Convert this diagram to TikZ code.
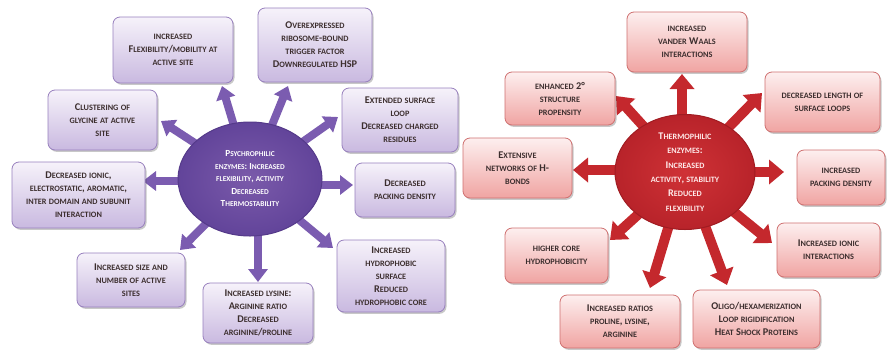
\documentclass[tikz,border=0pt]{standalone}
\usepackage{fontspec}
\setmainfont{Carlito}
\usetikzlibrary{arrows.meta,shadows,backgrounds,shapes.geometric}
\makeatletter
\newcommand\scshrink{\fontsize{\fpeval{0.8*\f@size}}{\f@baselineskip}\selectfont}
\makeatother
\ExplSyntaxOn
\NewDocumentCommand \fsc { m }
  {
    \str_map_inline:nn { #1 }
      {
        \str_if_eq:nnTF { ##1 } { ~ }
          { \c_space_tl }
          {
            \bool_lazy_and:nnTF
              { \int_compare_p:nNn { `##1 } > { 96 } }
              { \int_compare_p:nNn { `##1 } < { 123 } }
              { { \scshrink \str_uppercase:n { ##1 } } }
              { ##1 }
          }
      }
  }
\ExplSyntaxOff
\definecolor{ptop}{HTML}{F6F2FA}
\definecolor{pbot}{HTML}{C9B9E0}
\definecolor{pborder}{HTML}{9880BE}
\definecolor{pcircin}{HTML}{7A5AAA}
\definecolor{pcircout}{HTML}{62449A}
\definecolor{pcircdraw}{HTML}{553A8A}
\definecolor{parrowc}{HTML}{7B5CB0}
\definecolor{rtop}{HTML}{FDEFEF}
\definecolor{rbot}{HTML}{F0A4A2}
\definecolor{rborder}{HTML}{CF7070}
\definecolor{rcircin}{HTML}{CF3236}
\definecolor{rcircout}{HTML}{B8232A}
\definecolor{rcircdraw}{HTML}{A01C22}
\definecolor{rarrowc}{HTML}{C4282D}
\definecolor{boxtext}{HTML}{3C2E2E}
\begin{document}
\begin{tikzpicture}[x=1pt,y=-1pt,
  basebox/.style={line width=0.8pt, rounded corners=7pt, align=center, text=boxtext,
    inner sep=1pt, font={\fontsize{10.3}{13}\selectfont\bfseries},
    drop shadow={shadow xshift=1.5pt,shadow yshift=-1.8pt,opacity=0.3,fill=black!70}},
  pbox/.style={basebox, draw=pborder, top color=ptop, bottom color=pbot},
  rbox/.style={basebox, draw=rborder, top color=rtop, bottom color=rbot},
  wh/.style 2 args={minimum width=#1pt, minimum height=#2pt},
  pcirc/.style={ellipse, inner sep=0pt, line width=1pt, draw=pcircdraw, inner color=pcircin, outer color=pcircout,
    text=white, align=center, font={\fontsize{9.3}{12.5}\selectfont\bfseries}},
  rcirc/.style={ellipse, inner sep=0pt, line width=1pt, draw=rcircdraw, inner color=rcircin, outer color=rcircout,
    text=white!92!red, align=center, font={\fontsize{10.2}{14.4}\selectfont\bfseries}},
  parrow/.style={line width=8pt, draw=parrowc, -{Triangle[length=13pt,width=19pt]}},
  rarrow/.style={line width=10pt, draw=rarrowc, -{Triangle[length=15pt,width=24pt]}}
]
\useasboundingbox (0,0) rectangle (887,349);

% ---------- Psychrophilic ----------
\node[pcirc, wh={144}{114}] (cL) at (250,179)
  {\fsc{Psychrophilic}\\\fsc{enzymes: Increased}\\\fsc{flexibility, activity}\\\fsc{Decreased}\\\fsc{Thermostability}};

\node[pbox, wh={120}{66}] (p1) at (173,50)
  {\fsc{increased}\\\fsc{Flexibility/mobility at}\\\fsc{active site}};
\node[pbox, wh={114}{74}] (p2) at (315,45)
  {\fsc{Overexpressed}\\\fsc{ribosome-bound}\\\fsc{trigger factor}\\\fsc{Downregulated HSP}};
\node[pbox, wh={109}{60}] (p3) at (102.5,120)
  {\fsc{Clustering of}\\\fsc{glycine at active}\\\fsc{site}};
\node[pbox, wh={116}{64}] (p4) at (400,120)
  {\fsc{Extended surface}\\\fsc{loop}\\\fsc{Decreased charged}\\\fsc{residues}};
\node[pbox, wh={133}{66}] (p5) at (78.5,195)
  {\fsc{Decreased ionic,}\\\fsc{electrostatic, aromatic,}\\\fsc{inter domain and subunit}\\\fsc{interaction}};
\node[pbox, wh={100}{54}] (p6) at (405,190)
  {\fsc{Decreased}\\\fsc{packing density}};
\node[pbox, wh={108}{54}] (p7) at (131,280)
  {\fsc{Increased size and}\\\fsc{number of active}\\\fsc{sites}};
\node[pbox, wh={110}{60}] (p8) at (258,313)
  {\fsc{Increased lysine:}\\\fsc{Arginine ratio}\\\fsc{Decreased}\\\fsc{arginine/proline}};
\node[pbox, wh={108}{72}] (p9) at (391,276)
  {\fsc{Increased}\\\fsc{hydrophobic}\\\fsc{surface}\\\fsc{Reduced}\\\fsc{hydrophobic core}};

\coordinate (tp1) at (222,86);
\coordinate (tp2) at (288,86);
\coordinate (tp3) at (161,121);
\coordinate (tp4) at (338,117);
\coordinate (tp5) at (143,181);
\coordinate (tp6) at (353,185);
\coordinate (tp7) at (180,250);
\coordinate (tp8) at (258,282);
\coordinate (tp9) at (333,248);

% ---------- Thermophilic ----------
\node[rcirc, wh={140}{115}] (cR) at (685,172)
  {\fsc{Thermophilic}\\\fsc{enzymes:}\\\fsc{Increased}\\\fsc{activity, stability}\\\fsc{Reduced}\\\fsc{flexibility}};

\node[rbox, wh={120}{60}] (t1) at (687,42)
  {\fsc{increased}\\\fsc{vander Waals}\\\fsc{interactions}};
\node[rbox, wh={110}{53}] (t2) at (560,98.5)
  {\fsc{enhanced 2°}\\\fsc{structure}\\\fsc{propensity}};
\node[rbox, wh={115}{60}] (t3) at (822.5,102)
  {\fsc{decreased length of}\\\fsc{surface loops}};
\node[rbox, wh={109}{60}] (t4) at (517.5,168)
  {\fsc{Extensive}\\\fsc{networks of H-}\\\fsc{bonds}};
\node[rbox, wh={88}{55}] (t5) at (841,177.5)
  {\fsc{increased}\\\fsc{packing density}};
\node[rbox, wh={103}{55}] (t6) at (556.5,255.5)
  {\fsc{higher core}\\\fsc{hydrophobicity}};
\node[rbox, wh={103}{54}] (t7) at (828.5,250)
  {\fsc{Increased ionic}\\\fsc{interactions}};
\node[rbox, wh={120}{53}] (t8) at (620,321.5)
  {\fsc{Increased ratios}\\\fsc{proline, lysine,}\\\fsc{arginine}};
\node[rbox, wh={127}{58}] (t9) at (756.5,319)
  {\fsc{Oligo/hexamerization}\\\fsc{Loop rigidification}\\\fsc{Heat Shock Proteins}};

\coordinate (tt1) at (682,74);
\coordinate (tt2) at (616,96);
\coordinate (tt3) at (762,93);
\coordinate (tt4) at (573,170);
\coordinate (tt5) at (784,172);
\coordinate (tt6) at (610,240);
\coordinate (tt7) at (772,243);
\coordinate (tt8) at (650,288);
\coordinate (tt9) at (727,285);

\begin{scope}[on background layer]
  \fill[white] (0,0) rectangle (887,349);
  \draw[parrow] (cL.center) -- (tp1);
  \draw[parrow] (cL.center) -- (tp2);
  \draw[parrow] (cL.center) -- (tp3);
  \draw[parrow] (cL.center) -- (tp4);
  \draw[parrow] (cL.center |- tp5) -- (tp5);
  \draw[parrow] (cL.center |- tp6) -- (tp6);
  \draw[parrow] (cL.center) -- (tp7);
  \draw[parrow] (tp8 |- cL.center) -- (tp8);
  \draw[parrow] (cL.center) -- (tp9);
  \draw[rarrow] (tt1 |- cR.center) -- (tt1);
  \draw[rarrow] (cR.center) -- (tt2);
  \draw[rarrow] (cR.center) -- (tt3);
  \draw[rarrow] (cR.center |- tt4) -- (tt4);
  \draw[rarrow] (cR.center |- tt5) -- (tt5);
  \draw[rarrow] (cR.center) -- (tt6);
  \draw[rarrow] (cR.center) -- (tt7);
  \draw[rarrow] (cR.center) -- (tt8);
  \draw[rarrow] (cR.center) -- (tt9);
\end{scope}
\end{tikzpicture}
\end{document}
